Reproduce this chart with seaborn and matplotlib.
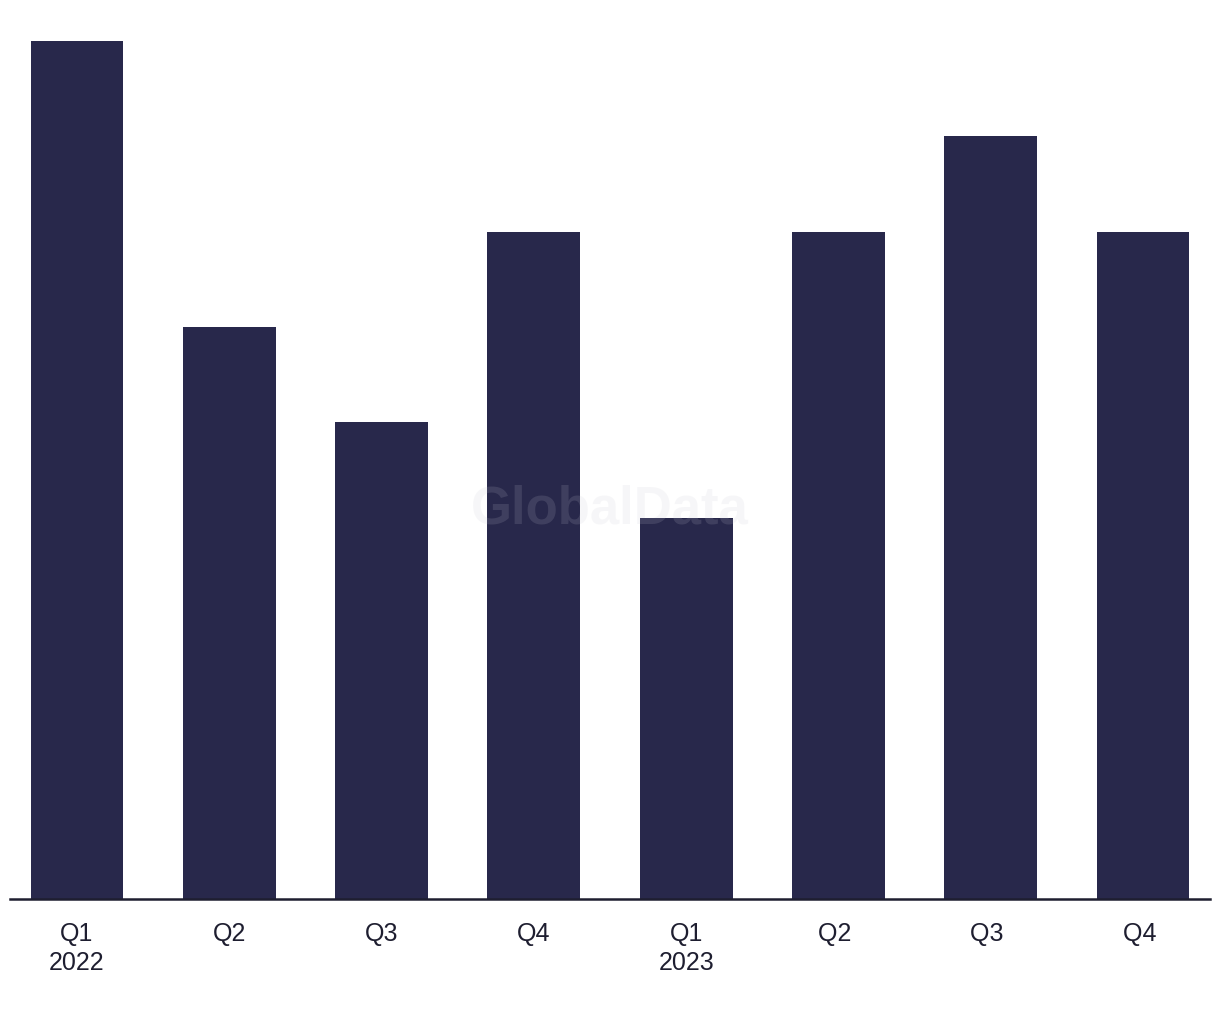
import pandas as pd
import matplotlib
matplotlib.use("Agg")
import matplotlib.pyplot as plt
import seaborn as sns

# data
quarters = ["Q1\n2022", "Q2", "Q3", "Q4", "Q1\n2023", "Q2 ", "Q3 ", "Q4 "]
deals = [9, 6, 5, 7, 4, 7, 8, 7]

bar_color = "#28284b"
text_color = "#1e1e30"

sns.set_theme(style="white")
plt.rcParams['font.family'] = ['Liberation Sans', 'DejaVu Sans']

df = pd.DataFrame({"quarter": quarters, "deals": deals})

fig = plt.figure(figsize=(12.2, 10.2), dpi=100)
ax = fig.add_axes([10 / 1220, 120 / 1020, 1200 / 1220, 858 / 1020])

sns.barplot(data=df, x="quarter", y="deals", color=bar_color, width=0.61,
            saturation=1, linewidth=0, ax=ax)

ax.set_xlim(-0.44, 7.44)
ax.set_ylim(0, 9)
ax.set(xlabel="", ylabel="", yticks=[])

for side in ["top", "right", "left"]:
    ax.spines[side].set_visible(False)
ax.spines["bottom"].set_color(text_color)
ax.spines["bottom"].set_linewidth(1.8)

ax.tick_params(axis="x", length=0, pad=16, labelsize=18, labelcolor=text_color)
for lbl in ax.get_xticklabels():
    lbl.set_linespacing(1.25)

# watermark
ax.text(0.5, 0.455, "GlobalData", transform=ax.transAxes, ha="center", va="center",
        fontsize=38, fontweight="bold", color="#c8c8d4", alpha=0.15, zorder=5)

fig.savefig("out.png", dpi=100, facecolor="white")
